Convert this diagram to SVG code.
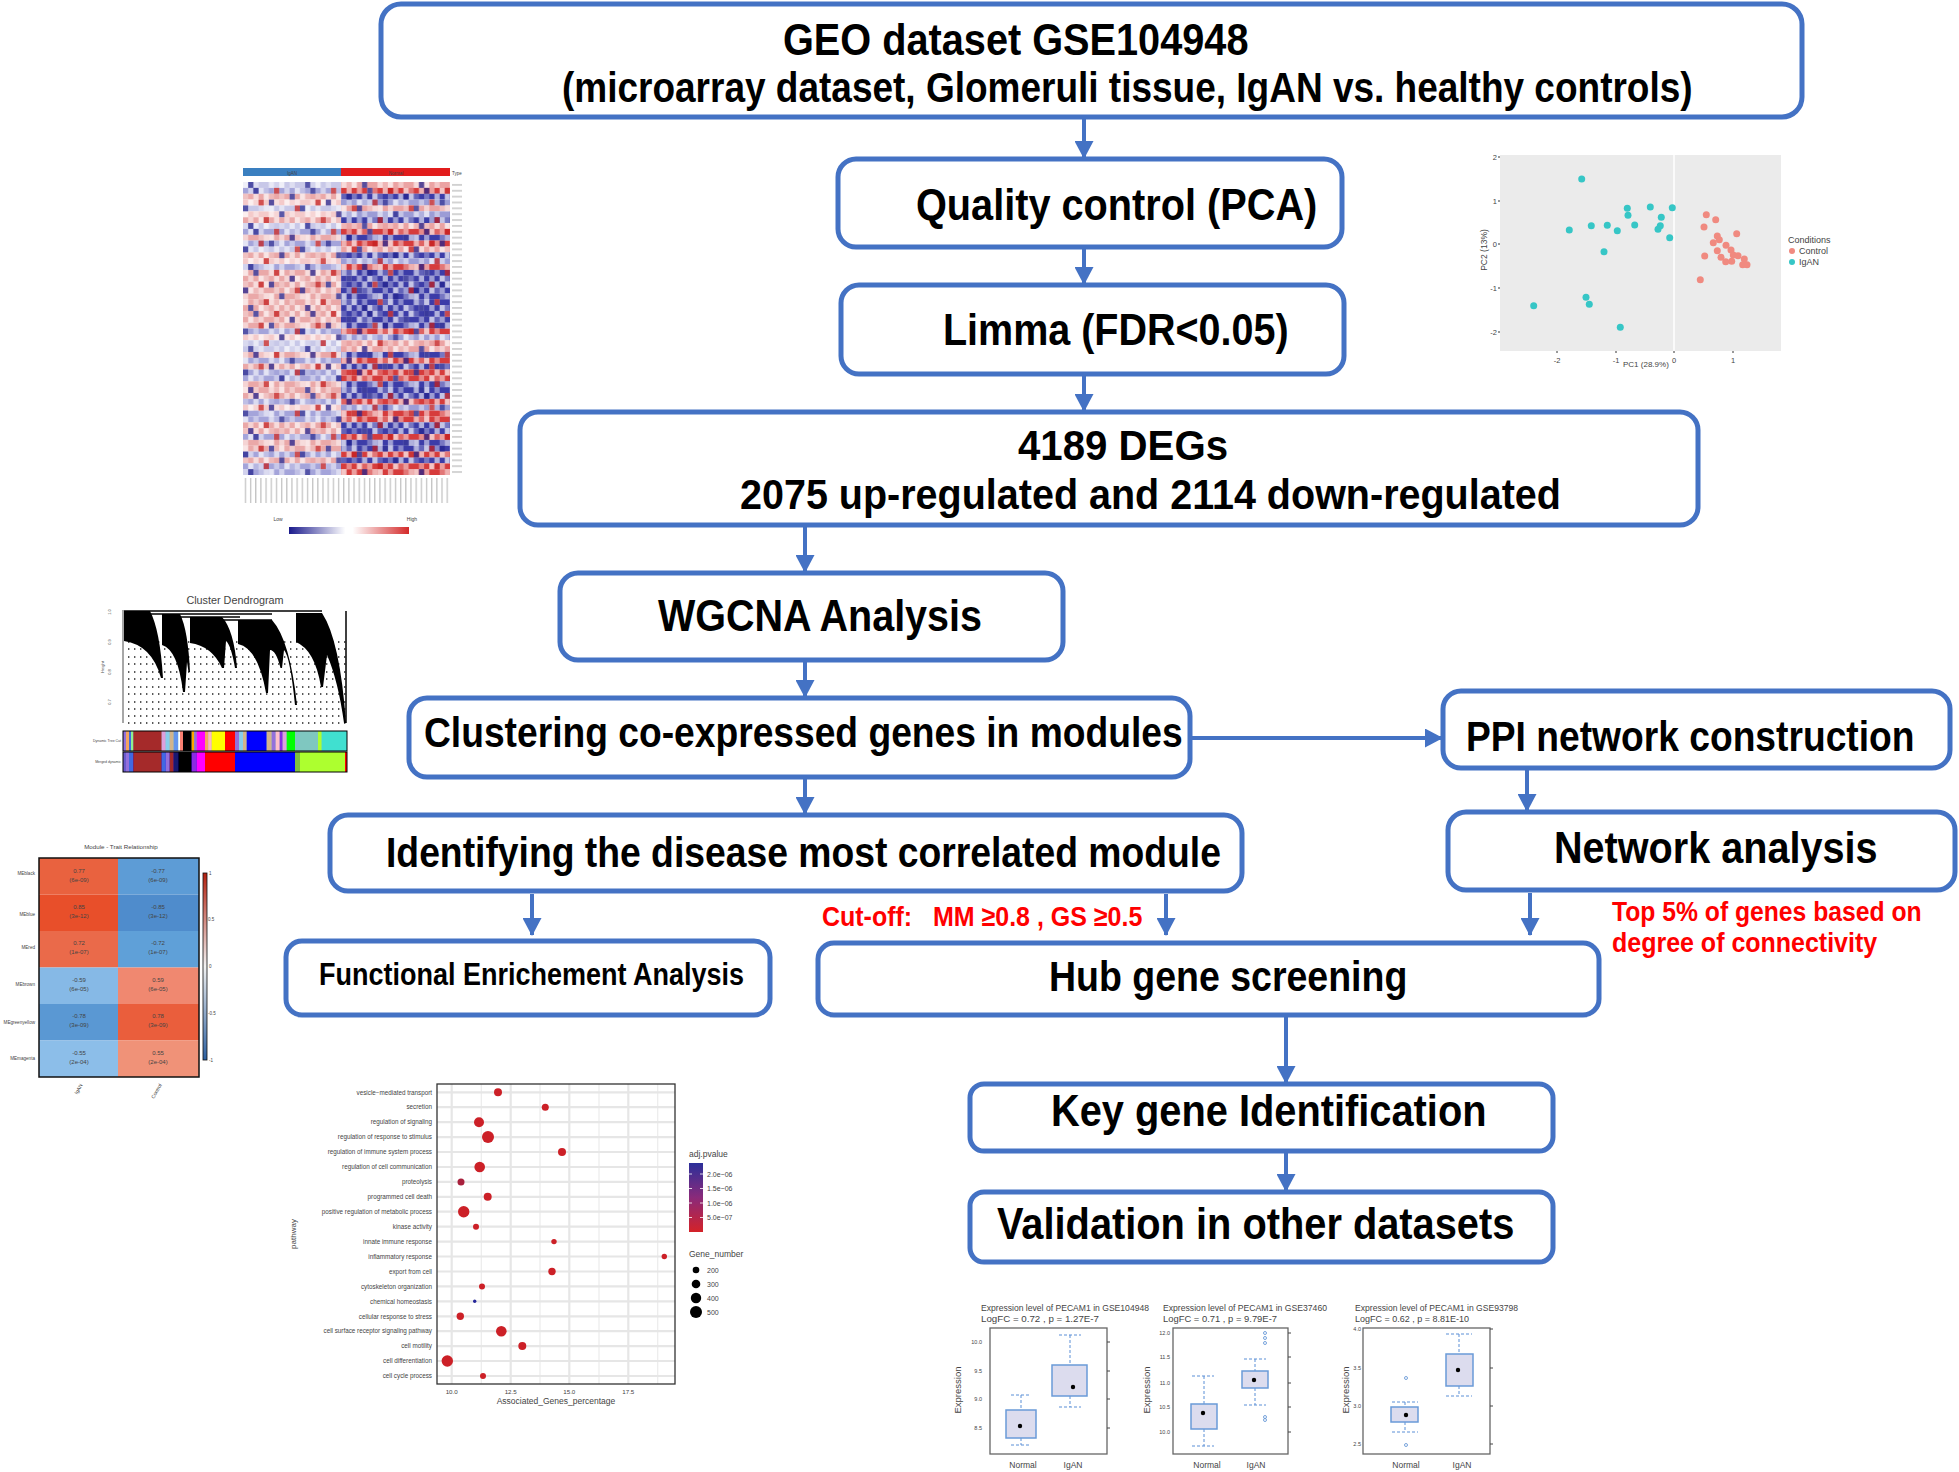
<svg xmlns="http://www.w3.org/2000/svg" width="1959" height="1472" viewBox="0 0 1959 1472">
<style>
.box{fill:#fff;stroke:#4472C4;stroke-width:5}
.t{font-family:"Liberation Sans",Arial,sans-serif;font-weight:bold;fill:#000}
.red{fill:#ff0000}
.con{stroke:#4472C4;stroke-width:4;fill:none;marker-end:url(#ah)}
.s{font-family:"Liberation Sans",Arial,sans-serif;fill:#444}
.R{fill:#d63c3c}.r{fill:#eba3a3}.B{fill:#3c3ca8}.b{fill:#9c9cd6}
.LR{fill:#a4a4da}.Lr{fill:#c8c8e8}.LB{fill:#eaa8a8}.Lb{fill:#f4caca}
.dot{fill:#cc2027}
.wh{stroke:#5b8fd6;stroke-width:1;stroke-dasharray:3 2;fill:none}
.bx{fill:#dcdcee;stroke:#6a9ad8;stroke-width:1.5}
.fr{fill:#fff;stroke:#666;stroke-width:1.3}
.ig{fill:#36c6c6}.ct{fill:#f08a80}
</style>
<defs>
<marker id="ah" markerUnits="userSpaceOnUse" markerWidth="18" markerHeight="19" refX="17" refY="9.5" orient="auto"><path d="M0,0 L18,9.5 L0,19 Z" fill="#4472C4"/></marker>
<pattern id="noise" patternUnits="userSpaceOnUse" x="243" y="182" width="36.225" height="29.3">
<g fill="#fff">
<rect x="0" y="0" width="5.2" height="5.9" opacity=".7"/><rect x="10.35" y="0" width="5.2" height="5.9" opacity=".4"/><rect x="25.875" y="0" width="5.2" height="5.9" opacity=".6"/><rect x="31.05" y="0" width="5.2" height="5.9" opacity=".2"/>
<rect x="5.175" y="5.86" width="5.2" height="5.9" opacity=".5"/><rect x="15.525" y="5.86" width="5.2" height="5.9" opacity=".7"/><rect x="20.7" y="5.86" width="5.2" height="5.9" opacity=".3"/><rect x="31.05" y="5.86" width="5.2" height="5.9" opacity=".6"/>
<rect x="0" y="11.72" width="5.2" height="5.9" opacity=".3"/><rect x="10.35" y="11.72" width="5.2" height="5.9" opacity=".6"/><rect x="20.7" y="11.72" width="5.2" height="5.9" opacity=".7"/><rect x="25.875" y="11.72" width="5.2" height="5.9" opacity=".2"/>
<rect x="5.175" y="17.58" width="5.2" height="5.9" opacity=".7"/><rect x="10.35" y="17.58" width="5.2" height="5.9" opacity=".2"/><rect x="15.525" y="17.58" width="5.2" height="5.9" opacity=".5"/><rect x="31.05" y="17.58" width="5.2" height="5.9" opacity=".4"/>
<rect x="0" y="23.44" width="5.2" height="5.9" opacity=".5"/><rect x="15.525" y="23.44" width="5.2" height="5.9" opacity=".3"/><rect x="20.7" y="23.44" width="5.2" height="5.9" opacity=".6"/><rect x="25.875" y="23.44" width="5.2" height="5.9" opacity=".7"/>
</g>
</pattern>
<pattern id="acc" patternUnits="userSpaceOnUse" x="243" y="182" width="56.925" height="41.02">
<g opacity=".75">
<rect x="5.175" y="0" width="5.2" height="5.9" fill="#23238f"/><rect x="31.05" y="5.86" width="5.2" height="5.9" fill="#c41e1e"/><rect x="10.35" y="5.86" width="5.2" height="5.9" fill="#23238f"/>
<rect x="46.575" y="11.72" width="5.2" height="5.9" fill="#23238f"/><rect x="15.525" y="17.58" width="5.2" height="5.9" fill="#c41e1e"/><rect x="25.875" y="17.58" width="5.2" height="5.9" fill="#23238f"/>
<rect x="0" y="23.44" width="5.2" height="5.9" fill="#23238f"/><rect x="51.75" y="23.44" width="5.2" height="5.9" fill="#c41e1e"/><rect x="36.225" y="29.3" width="5.2" height="5.9" fill="#23238f"/><rect x="20.7" y="35.16" width="5.2" height="5.9" fill="#c41e1e"/>
</g>
</pattern>
<pattern id="vl" patternUnits="userSpaceOnUse" x="243" y="478" width="5.175" height="30"><rect x="2" y="0" width="0.9" height="25" fill="#aaa"/></pattern>
<pattern id="hl" patternUnits="userSpaceOnUse" x="452" y="182" width="14" height="5.86"><rect x="0" y="2.4" width="10" height="1" fill="#aaa"/></pattern>
<linearGradient id="hmbar" x1="0" x2="1" y1="0" y2="0"><stop offset="0" stop-color="#1a1a8c"/><stop offset=".47" stop-color="#fff"/><stop offset=".53" stop-color="#fff"/><stop offset="1" stop-color="#d42a2a"/></linearGradient>
<linearGradient id="mtbar" x1="0" x2="0" y1="0" y2="1"><stop offset="0" stop-color="#b4200e"/><stop offset=".5" stop-color="#f2f2f2"/><stop offset="1" stop-color="#2b5fa0"/></linearGradient>
<linearGradient id="pbar" x1="0" x2="0" y1="0" y2="1"><stop offset="0" stop-color="#2b2f9a"/><stop offset=".5" stop-color="#8a2a7a"/><stop offset="1" stop-color="#d42228"/></linearGradient>
</defs>

<!-- connectors -->
<g id="connectors">
<line class="con" x1="1084" y1="117" x2="1084" y2="158"/>
<line class="con" x1="1084" y1="247" x2="1084" y2="284"/>
<line class="con" x1="1084" y1="374" x2="1084" y2="411"/>
<line class="con" x1="805" y1="525" x2="805" y2="572"/>
<line class="con" x1="805" y1="660" x2="805" y2="697"/>
<line class="con" x1="1190" y1="738" x2="1442" y2="738"/>
<line class="con" x1="805" y1="777" x2="805" y2="814"/>
<line class="con" x1="1527" y1="768" x2="1527" y2="811"/>
<line class="con" x1="532" y1="894" x2="532" y2="935"/>
<line class="con" x1="1166" y1="894" x2="1166" y2="935"/>
<line class="con" x1="1530" y1="893" x2="1530" y2="935"/>
<line class="con" x1="1286" y1="1015" x2="1286" y2="1083"/>
<line class="con" x1="1286" y1="1151" x2="1286" y2="1191"/>
</g>

<!-- nodes -->
<g id="geo"><rect class="box" x="381" y="4" width="1421" height="113" rx="20"/>
<text class="t" font-size="39.7" transform="translate(783,55) scale(1,1.13)">GEO dataset GSE104948</text>
<text class="t" font-size="37" transform="translate(562,102) scale(1,1.13)">(microarray dataset, Glomeruli tissue, IgAN vs. healthy controls)</text></g>
<g id="qc"><rect class="box" x="838" y="159" width="504" height="88" rx="18"/>
<text class="t" font-size="39.7" transform="translate(916,220) scale(1,1.13)">Quality control (PCA)</text></g>
<g id="limma"><rect class="box" x="841" y="285" width="503" height="89" rx="18"/>
<text class="t" font-size="39.5" transform="translate(943,345) scale(1,1.13)">Limma (FDR&lt;0.05)</text></g>
<g id="degs"><rect class="box" x="520" y="412" width="1178" height="113" rx="18"/>
<text class="t" font-size="40.2" transform="translate(1018,460) scale(1,1.08)">4189 DEGs</text>
<text class="t" font-size="39.5" transform="translate(740,509) scale(1,1.08)">2075 up-regulated and 2114 down-regulated</text></g>
<g id="wgcna"><rect class="box" x="560" y="573" width="503" height="87" rx="18"/>
<text class="t" font-size="39.5" transform="translate(658,631) scale(1,1.13)">WGCNA Analysis</text></g>
<g id="clustering"><rect class="box" x="409" y="698" width="781" height="79" rx="18"/>
<text class="t" font-size="37.2" transform="translate(424,747) scale(1,1.13)">Clustering co-expressed genes in modules</text></g>
<g id="ppi"><rect class="box" x="1443" y="691" width="507" height="77" rx="18"/>
<text class="t" font-size="37.2" transform="translate(1466,751) scale(1,1.13)">PPI network construction</text></g>
<g id="identifying"><rect class="box" x="330" y="815" width="912" height="76" rx="18"/>
<text class="t" font-size="37.3" transform="translate(386,867) scale(1,1.13)">Identifying the disease most correlated module</text></g>
<g id="network"><rect class="box" x="1448" y="812" width="507" height="78" rx="18"/>
<text class="t" font-size="39.6" transform="translate(1554,863) scale(1,1.13)">Network analysis</text></g>
<g id="functional"><rect class="box" x="286" y="941" width="484" height="74" rx="16"/>
<text class="t" font-size="27" transform="translate(319,985) scale(1,1.13)">Functional Enrichement Analysis</text></g>
<g id="cutoff"><text class="t red" font-size="25" xml:space="preserve" transform="translate(822,926) scale(1,1.13)">Cut-off:   MM ≥0.8 , GS ≥0.5</text></g>
<g id="top5"><text class="t red" font-size="24.7" transform="translate(1612,921) scale(1,1.13)">Top 5% of genes based on</text>
<text class="t red" font-size="25" transform="translate(1612,952) scale(1,1.13)">degree of connectivity</text></g>
<g id="hub"><rect class="box" x="818" y="943" width="781" height="72" rx="16"/>
<text class="t" font-size="37.5" transform="translate(1049,991) scale(1,1.13)">Hub gene screening</text></g>
<g id="key"><rect class="box" x="970" y="1084" width="583" height="67" rx="14"/>
<text class="t" font-size="39.8" transform="translate(1051,1126) scale(1,1.13)">Key gene Identification</text></g>
<g id="validation"><rect class="box" x="970" y="1192" width="583" height="70" rx="14"/>
<text class="t" font-size="39.8" transform="translate(997,1239) scale(1,1.13)">Validation in other datasets</text></g>

<!-- heatmap -->
<g id="heatmap">
<rect x="243" y="168" width="98" height="8" fill="#3a7fc0"/><rect x="341" y="168" width="109" height="8" fill="#e21c1c"/>
<text class="s" x="292" y="174.5" font-size="4.5" text-anchor="middle" fill="#222">IgAN</text>
<text class="s" x="396" y="174.5" font-size="4.5" text-anchor="middle" fill="#222">Normal</text>
<text class="s" x="452" y="174.5" font-size="4.5">Type</text>
<g>
<rect class="Lr" x="243" y="182" width="98" height="5.9"/><rect class="r" x="341" y="182" width="109" height="5.9"/>
<rect class="LR" x="243" y="187.86" width="98" height="5.9"/><rect class="R" x="341" y="187.86" width="109" height="5.9"/>
<rect class="LB" x="243" y="193.72" width="98" height="5.9"/><rect class="B" x="341" y="193.72" width="109" height="5.9"/>
<rect class="Lb" x="243" y="199.58" width="98" height="5.9"/><rect class="b" x="341" y="199.58" width="109" height="5.9"/>
<rect class="Lr" x="243" y="205.44" width="98" height="5.9"/><rect class="r" x="341" y="205.44" width="109" height="5.9"/>
<rect class="Lb" x="243" y="211.3" width="98" height="5.9"/><rect class="b" x="341" y="211.3" width="109" height="5.9"/>
<rect class="LB" x="243" y="217.16" width="98" height="5.9"/><rect class="B" x="341" y="217.16" width="109" height="5.9"/>
<rect class="Lr" x="243" y="223.02" width="98" height="5.9"/><rect class="r" x="341" y="223.02" width="109" height="5.9"/>
<rect class="LR" x="243" y="228.88" width="98" height="5.9"/><rect class="R" x="341" y="228.88" width="109" height="5.9"/>
<rect class="LB" x="243" y="234.74" width="98" height="5.9"/><rect class="B" x="341" y="234.74" width="109" height="5.9"/>
<rect class="LR" x="243" y="240.6" width="98" height="5.9"/><rect class="R" x="341" y="240.6" width="109" height="5.9"/>
<rect class="Lr" x="243" y="246.46" width="98" height="5.9"/><rect class="r" x="341" y="246.46" width="109" height="5.9"/>
<rect class="LB" x="243" y="252.32" width="98" height="5.9"/><rect class="B" x="341" y="252.32" width="109" height="5.9"/>
<rect class="Lb" x="243" y="258.18" width="98" height="5.9"/><rect class="b" x="341" y="258.18" width="109" height="5.9"/>
<rect class="LR" x="243" y="264.04" width="98" height="5.9"/><rect class="R" x="341" y="264.04" width="109" height="5.9"/>
<rect class="LB" x="243" y="269.9" width="98" height="5.9"/><rect class="B" x="341" y="269.9" width="109" height="5.9"/>
<rect class="LB" x="243" y="275.76" width="98" height="5.9"/><rect class="B" x="341" y="275.76" width="109" height="5.9"/>
<rect class="LB" x="243" y="281.62" width="98" height="5.9"/><rect class="B" x="341" y="281.62" width="109" height="5.9"/>
<rect class="LB" x="243" y="287.48" width="98" height="5.9"/><rect class="B" x="341" y="287.48" width="109" height="5.9"/>
<rect class="LB" x="243" y="293.34" width="98" height="5.9"/><rect class="B" x="341" y="293.34" width="109" height="5.9"/>
<rect class="LB" x="243" y="299.2" width="98" height="5.9"/><rect class="B" x="341" y="299.2" width="109" height="5.9"/>
<rect class="LB" x="243" y="305.06" width="98" height="5.9"/><rect class="B" x="341" y="305.06" width="109" height="5.9"/>
<rect class="LB" x="243" y="310.92" width="98" height="5.9"/><rect class="B" x="341" y="310.92" width="109" height="5.9"/>
<rect class="LB" x="243" y="316.78" width="98" height="5.9"/><rect class="B" x="341" y="316.78" width="109" height="5.9"/>
<rect class="LB" x="243" y="322.64" width="98" height="5.9"/><rect class="B" x="341" y="322.64" width="109" height="5.9"/>
<rect class="LR" x="243" y="328.5" width="98" height="5.9"/><rect class="R" x="341" y="328.5" width="109" height="5.9"/>
<rect class="Lb" x="243" y="334.36" width="98" height="5.9"/><rect class="b" x="341" y="334.36" width="109" height="5.9"/>
<rect class="Lr" x="243" y="340.22" width="98" height="5.9"/><rect class="r" x="341" y="340.22" width="109" height="5.9"/>
<rect class="Lr" x="243" y="346.08" width="98" height="5.9"/><rect class="r" x="341" y="346.08" width="109" height="5.9"/>
<rect class="LB" x="243" y="351.94" width="98" height="5.9"/><rect class="B" x="341" y="351.94" width="109" height="5.9"/>
<rect class="LR" x="243" y="357.8" width="98" height="5.9"/><rect class="R" x="341" y="357.8" width="109" height="5.9"/>
<rect class="LB" x="243" y="363.66" width="98" height="5.9"/><rect class="B" x="341" y="363.66" width="109" height="5.9"/>
<rect class="LR" x="243" y="369.52" width="98" height="5.9"/><rect class="R" x="341" y="369.52" width="109" height="5.9"/>
<rect class="LR" x="243" y="375.38" width="98" height="5.9"/><rect class="R" x="341" y="375.38" width="109" height="5.9"/>
<rect class="LB" x="243" y="381.24" width="98" height="5.9"/><rect class="B" x="341" y="381.24" width="109" height="5.9"/>
<rect class="LB" x="243" y="387.1" width="98" height="5.9"/><rect class="B" x="341" y="387.1" width="109" height="5.9"/>
<rect class="LB" x="243" y="392.96" width="98" height="5.9"/><rect class="B" x="341" y="392.96" width="109" height="5.9"/>
<rect class="LR" x="243" y="398.82" width="98" height="5.9"/><rect class="R" x="341" y="398.82" width="109" height="5.9"/>
<rect class="Lb" x="243" y="404.68" width="98" height="5.9"/><rect class="b" x="341" y="404.68" width="109" height="5.9"/>
<rect class="LR" x="243" y="410.54" width="98" height="5.9"/><rect class="R" x="341" y="410.54" width="109" height="5.9"/>
<rect class="LR" x="243" y="416.4" width="98" height="5.9"/><rect class="R" x="341" y="416.4" width="109" height="5.9"/>
<rect class="LB" x="243" y="422.26" width="98" height="5.9"/><rect class="B" x="341" y="422.26" width="109" height="5.9"/>
<rect class="LB" x="243" y="428.12" width="98" height="5.9"/><rect class="B" x="341" y="428.12" width="109" height="5.9"/>
<rect class="LR" x="243" y="433.98" width="98" height="5.9"/><rect class="R" x="341" y="433.98" width="109" height="5.9"/>
<rect class="LB" x="243" y="439.84" width="98" height="5.9"/><rect class="B" x="341" y="439.84" width="109" height="5.9"/>
<rect class="LB" x="243" y="445.7" width="98" height="5.9"/><rect class="B" x="341" y="445.7" width="109" height="5.9"/>
<rect class="LR" x="243" y="451.56" width="98" height="5.9"/><rect class="R" x="341" y="451.56" width="109" height="5.9"/>
<rect class="LB" x="243" y="457.42" width="98" height="5.9"/><rect class="B" x="341" y="457.42" width="109" height="5.9"/>
<rect class="LR" x="243" y="463.28" width="98" height="5.9"/><rect class="R" x="341" y="463.28" width="109" height="5.9"/>
<rect class="LR" x="243" y="469.14" width="98" height="5.86"/><rect class="R" x="341" y="469.14" width="109" height="5.86"/>
</g>
<rect x="243" y="182" width="207" height="293" fill="url(#noise)"/>
<rect x="243" y="182" width="207" height="293" fill="url(#acc)"/>
<rect x="452" y="182" width="11" height="293" fill="url(#hl)"/>
<rect x="243" y="478" width="207" height="25" fill="url(#vl)"/>
<text class="s" x="278" y="521" font-size="5" text-anchor="middle">Low</text>
<text class="s" x="412" y="521" font-size="5" text-anchor="middle">High</text>
<rect x="289" y="527" width="120" height="7" fill="url(#hmbar)"/>
</g>

<!-- PCA -->
<g id="pca">
<rect x="1500" y="155" width="281" height="196" fill="#ebebeb"/>
<line x1="1674" y1="155" x2="1674" y2="351" stroke="#fff" stroke-width="1.5"/>
<g class="s" font-size="7.5" text-anchor="end">
<text x="1497" y="160">2</text><text x="1497" y="204">1</text><text x="1497" y="247">0</text><text x="1497" y="291">-1</text><text x="1497" y="335">-2</text>
</g>
<g class="s" font-size="7.5" text-anchor="middle">
<text x="1557" y="363">-2</text><text x="1616" y="363">-1</text><text x="1674" y="363">0</text><text x="1733" y="363">1</text>
</g>
<g stroke="#333" stroke-width="1"><line x1="1498" y1="157" x2="1500" y2="157"/><line x1="1498" y1="201" x2="1500" y2="201"/><line x1="1498" y1="244" x2="1500" y2="244"/><line x1="1498" y1="288" x2="1500" y2="288"/><line x1="1498" y1="332" x2="1500" y2="332"/>
<line x1="1557" y1="351" x2="1557" y2="353"/><line x1="1616" y1="351" x2="1616" y2="353"/><line x1="1674" y1="351" x2="1674" y2="353"/><line x1="1733" y1="351" x2="1733" y2="353"/></g>
<text class="s" x="1623" y="367" font-size="8">PC1 (28.9%)</text>
<text class="s" x="1487" y="250" font-size="8.5" text-anchor="middle" transform="rotate(-90 1487 250)">PC2 (13%)</text>
<text class="s" x="1788" y="243" font-size="9">Conditions</text>
<circle class="ct" cx="1792" cy="251" r="3"/><circle class="ig" cx="1792" cy="262" r="3"/>
<text class="s" x="1799" y="254" font-size="9">Control</text><text class="s" x="1799" y="265" font-size="9">IgAN</text>
<g class="ig">
<circle cx="1581.7" cy="179" r="3.5"/><circle cx="1569.3" cy="230" r="3.5"/><circle cx="1591.3" cy="225.7" r="3.5"/><circle cx="1607.3" cy="225.3" r="3.5"/><circle cx="1617.3" cy="230.7" r="3.5"/><circle cx="1627.3" cy="208.3" r="3.5"/><circle cx="1628" cy="215.3" r="3.5"/><circle cx="1634.7" cy="225" r="3.5"/><circle cx="1650.3" cy="207" r="3.5"/><circle cx="1661.3" cy="217.3" r="3.5"/><circle cx="1660.3" cy="225.7" r="3.5"/><circle cx="1658" cy="229.3" r="3.5"/><circle cx="1669.7" cy="237.7" r="3.5"/><circle cx="1672.3" cy="207.7" r="3.5"/><circle cx="1604" cy="251.7" r="3.5"/><circle cx="1586" cy="297.3" r="3.5"/><circle cx="1589.3" cy="304.3" r="3.5"/><circle cx="1533.7" cy="305.7" r="3.5"/><circle cx="1620.3" cy="327.3" r="3.5"/>
</g>
<g class="ct">
<circle cx="1706.3" cy="214.7" r="3.5"/><circle cx="1715.7" cy="219.7" r="3.5"/><circle cx="1704" cy="227" r="3.5"/><circle cx="1717.3" cy="236" r="3.5"/><circle cx="1719.3" cy="239.7" r="3.5"/><circle cx="1736.7" cy="233.7" r="3.5"/><circle cx="1713.3" cy="242.7" r="3.5"/><circle cx="1726" cy="245.3" r="3.5"/><circle cx="1717.3" cy="250.7" r="3.5"/><circle cx="1731" cy="250" r="3.5"/><circle cx="1704.7" cy="256" r="3.5"/><circle cx="1721" cy="257.3" r="3.5"/><circle cx="1733.3" cy="255" r="3.5"/><circle cx="1738" cy="255.7" r="3.5"/><circle cx="1725.7" cy="261.7" r="3.5"/><circle cx="1731.7" cy="261.3" r="3.5"/><circle cx="1744.3" cy="259" r="3.5"/><circle cx="1742.7" cy="264.7" r="3.5"/><circle cx="1747" cy="264.7" r="3.5"/><circle cx="1700.3" cy="279.7" r="3.5"/>
</g>
</g>

<!-- dendrogram -->
<g id="dendrogram">
<text class="s" x="235" y="604" font-size="10.8" text-anchor="middle" fill="#222">Cluster Dendrogram</text>
<line x1="123" y1="610" x2="123" y2="723" stroke="#222" stroke-width="0.8"/>
<g class="s" font-size="4">
<text x="111" y="612" text-anchor="middle" transform="rotate(-90 111 612)">1.0</text>
<text x="111" y="642" text-anchor="middle" transform="rotate(-90 111 642)">0.9</text>
<text x="111" y="672" text-anchor="middle" transform="rotate(-90 111 672)">0.8</text>
<text x="111" y="702" text-anchor="middle" transform="rotate(-90 111 702)">0.7</text>
<text x="104" y="667" text-anchor="middle" transform="rotate(-90 104 667)">Height</text>
</g>
<g stroke="#222" stroke-width="1.3" stroke-dasharray="1.4 4.6">
<line x1="128" y1="642" x2="346" y2="642"/><line x1="128" y1="649" x2="346" y2="649"/><line x1="128" y1="657" x2="346" y2="657"/><line x1="128" y1="664" x2="346" y2="664"/><line x1="128" y1="672" x2="346" y2="672"/><line x1="128" y1="679" x2="346" y2="679"/><line x1="128" y1="687" x2="346" y2="687"/><line x1="128" y1="694" x2="346" y2="694"/><line x1="128" y1="702" x2="346" y2="702"/><line x1="128" y1="709" x2="346" y2="709"/><line x1="128" y1="716" x2="346" y2="716"/><line x1="128" y1="723" x2="346" y2="723"/>
</g>
<g stroke="#000" stroke-width="1.5" fill="none">
<line x1="124" y1="611" x2="322" y2="611"/>
<line x1="150" y1="614" x2="272" y2="614"/>
<line x1="180" y1="617" x2="240" y2="617"/>
<line x1="222" y1="620" x2="272" y2="620"/>
<line x1="346" y1="611" x2="346" y2="723"/>
</g>
<g fill="#000">
<path d="M124,611 H150 Q160,630 163,678 h-2 Q152,645 124,641 Z"/>
<path d="M162,614 H180 Q188,630 190,672 h-1.5 L187,662 L185,692 h-2 Q178,650 162,645 Z"/>
<path d="M190,617 H222 Q234,630 237,668 h-2 Q231,645 226,641 L224,668 h-2 Q212,646 190,643 Z"/>
<path d="M238,620 H272 Q290,640 297,705 h-2 Q290,656 284,650 L282,668 h-1.5 Q276,650 270,650 L268,693 h-2 Q258,648 238,644 Z"/>
<path d="M296,613 H322 Q340,640 346,723 h-2 Q338,680 327,655 L323,687 h-2 Q315,650 296,642 Z"/>
</g>
<g>
<rect x="123" y="731" width="224" height="20" fill="#7fc7c0"/>
<rect x="123" y="731" width="3" height="20" fill="#9370db"/><rect x="126" y="731" width="3" height="20" fill="#f4a460"/><rect x="129" y="731" width="2" height="20" fill="#4169e1"/><rect x="131" y="731" width="2.3" height="20" fill="#90ee90"/>
<rect x="133.3" y="731" width="28.4" height="20" fill="#a52a2a"/>
<rect x="161.7" y="731" width="4" height="20" fill="#dda0dd"/><rect x="165.7" y="731" width="4" height="20" fill="#87ceeb"/><rect x="169.7" y="731" width="4" height="20" fill="#d2b48c"/><rect x="173.7" y="731" width="4.6" height="20" fill="#6495ed"/>
<rect x="178.3" y="731" width="1.7" height="20" fill="#fff"/>
<rect x="180" y="731" width="3" height="20" fill="#fa8072"/>
<rect x="183" y="731" width="8.7" height="20" fill="#000"/>
<rect x="191.7" y="731" width="2.5" height="20" fill="#ffa500"/><rect x="194.2" y="731" width="2.5" height="20" fill="#9370db"/>
<rect x="196.7" y="731" width="8.3" height="20" fill="#ff00ff"/>
<rect x="205" y="731" width="3.3" height="20" fill="#f4a460"/><rect x="208.3" y="731" width="3.4" height="20" fill="#ffb6c1"/>
<rect x="211.7" y="731" width="13.3" height="20" fill="#ffff00"/>
<rect x="225" y="731" width="10" height="20" fill="#ff0000"/>
<rect x="235" y="731" width="4" height="20" fill="#9370db"/><rect x="239" y="731" width="4" height="20" fill="#87ceeb"/><rect x="243" y="731" width="3.7" height="20" fill="#d2b48c"/>
<rect x="246.7" y="731" width="20" height="20" fill="#0000ff"/>
<rect x="266.7" y="731" width="5" height="20" fill="#d2b48c"/><rect x="271.7" y="731" width="4" height="20" fill="#9370db"/><rect x="275.7" y="731" width="4" height="20" fill="#ffc0cb"/><rect x="279.7" y="731" width="3" height="20" fill="#8a2be2"/><rect x="282.7" y="731" width="4" height="20" fill="#dda0dd"/>
<rect x="286.7" y="731" width="8.3" height="20" fill="#00ff00"/>
<rect x="318" y="731" width="3.7" height="20" fill="#adff2f"/>
<rect x="321.7" y="731" width="25.3" height="20" fill="#40e0d0"/>
<rect x="123" y="752" width="224" height="20" fill="#0000ff"/>
<rect x="123" y="752" width="3" height="20" fill="#6a5acd"/><rect x="126" y="752" width="3" height="20" fill="#9370db"/><rect x="129" y="752" width="4.3" height="20" fill="#4169e1"/>
<rect x="133.3" y="752" width="28.4" height="20" fill="#a52a2a"/>
<rect x="161.7" y="752" width="4" height="20" fill="#4169e1"/><rect x="165.7" y="752" width="4" height="20" fill="#9370db"/><rect x="169.7" y="752" width="4" height="20" fill="#a52a2a"/><rect x="173.7" y="752" width="4.6" height="20" fill="#191970"/>
<rect x="178.3" y="752" width="13.4" height="20" fill="#000"/>
<rect x="191.7" y="752" width="5" height="20" fill="#8a2be2"/>
<rect x="196.7" y="752" width="8.3" height="20" fill="#ff00ff"/>
<rect x="205" y="752" width="30" height="20" fill="#ff0000"/>
<rect x="295" y="752" width="5" height="20" fill="#7fbf3f"/>
<rect x="300" y="752" width="45" height="20" fill="#adff2f"/>
<rect x="345" y="752" width="2" height="20" fill="#ff0000"/>
<rect x="123" y="731" width="224" height="20" fill="none" stroke="#000" stroke-width="1"/>
<rect x="123" y="752" width="224" height="20" fill="none" stroke="#000" stroke-width="1"/>
</g>
<text class="s" x="121" y="742" font-size="3.5" text-anchor="end">Dynamic Tree Cut</text>
<text class="s" x="121" y="763" font-size="3.5" text-anchor="end">Merged dynamic</text>
</g>

<!-- module-trait -->
<g id="moduletrait">
<text class="s" x="121" y="849" font-size="6.2" text-anchor="middle">Module - Trait Relationship</text>
<rect x="39" y="858" width="79" height="36.5" fill="#e9623f"/><rect x="118" y="858" width="81" height="36.5" fill="#5d9cd6"/>
<rect x="39" y="894.5" width="79" height="36.5" fill="#e84f2a"/><rect x="118" y="894.5" width="81" height="36.5" fill="#4f8ccc"/>
<rect x="39" y="931" width="79" height="36.5" fill="#ea6a4a"/><rect x="118" y="931" width="81" height="36.5" fill="#5fa0d8"/>
<rect x="39" y="967.5" width="79" height="36.5" fill="#86b9e6"/><rect x="118" y="967.5" width="81" height="36.5" fill="#f08870"/>
<rect x="39" y="1004" width="79" height="36.5" fill="#5a98d3"/><rect x="118" y="1004" width="81" height="36.5" fill="#ea5e3c"/>
<rect x="39" y="1040.5" width="79" height="36.5" fill="#8cbee9"/><rect x="118" y="1040.5" width="81" height="36.5" fill="#f09278"/>
<rect x="39" y="858" width="160" height="219" fill="none" stroke="#111" stroke-width="1.5"/>
<g class="s" font-size="4.6" text-anchor="end">
<text x="35" y="875">MEblack</text><text x="35" y="916">MEblue</text><text x="35" y="949">MEred</text><text x="35" y="986">MEbrown</text><text x="35" y="1024">MEgreenyellow</text><text x="35" y="1060">MEmagenta</text>
</g>
<g class="s" font-size="6" text-anchor="middle" fill="#333">
<text x="79" y="873">0.77</text><text x="79" y="881.5">(6e-09)</text><text x="158" y="873">-0.77</text><text x="158" y="881.5">(6e-09)</text>
<text x="79" y="909">0.85</text><text x="79" y="917.5">(3e-12)</text><text x="158" y="909">-0.85</text><text x="158" y="917.5">(3e-12)</text>
<text x="79" y="945">0.72</text><text x="79" y="953.5">(1e-07)</text><text x="158" y="945">-0.72</text><text x="158" y="953.5">(1e-07)</text>
<text x="79" y="982">-0.59</text><text x="79" y="990.5">(6e-05)</text><text x="158" y="982">0.59</text><text x="158" y="990.5">(6e-05)</text>
<text x="79" y="1018">-0.78</text><text x="79" y="1026.5">(3e-09)</text><text x="158" y="1018">0.78</text><text x="158" y="1026.5">(3e-09)</text>
<text x="79" y="1055">-0.55</text><text x="79" y="1063.5">(2e-04)</text><text x="158" y="1055">0.55</text><text x="158" y="1063.5">(2e-04)</text>
</g>
<rect x="203" y="873" width="4" height="187" fill="url(#mtbar)" stroke="#111" stroke-width="0.8"/>
<g class="s" font-size="4.5"><text x="209" y="875">1</text><text x="208" y="921">0.5</text><text x="209" y="968">0</text><text x="208" y="1015">-0.5</text><text x="209" y="1062">-1</text></g>
<text class="s" x="80" y="1090" font-size="5" text-anchor="middle" transform="rotate(-60 80 1090)">IgAN</text>
<text class="s" x="158" y="1092" font-size="5" text-anchor="middle" transform="rotate(-60 158 1092)">Control</text>
</g>

<!-- dot plot -->
<g id="dotplot">
<rect x="437" y="1084" width="238" height="300" fill="#fff"/>
<g stroke="#ebebeb" stroke-width="1.2">
<line x1="481.3" y1="1084" x2="481.3" y2="1384"/><line x1="540" y1="1084" x2="540" y2="1384"/><line x1="599" y1="1084" x2="599" y2="1384"/><line x1="657.7" y1="1084" x2="657.7" y2="1384"/>
</g>
<g stroke="#e6e6e6" stroke-width="2.2">
<line x1="451.7" y1="1084" x2="451.7" y2="1384"/><line x1="510.7" y1="1084" x2="510.7" y2="1384"/><line x1="569.3" y1="1084" x2="569.3" y2="1384"/><line x1="628.3" y1="1084" x2="628.3" y2="1384"/>
<line x1="437" y1="1092.3" x2="675" y2="1092.3"/><line x1="437" y1="1107.2" x2="675" y2="1107.2"/><line x1="437" y1="1122.2" x2="675" y2="1122.2"/><line x1="437" y1="1137.1" x2="675" y2="1137.1"/><line x1="437" y1="1152" x2="675" y2="1152"/><line x1="437" y1="1167" x2="675" y2="1167"/><line x1="437" y1="1181.9" x2="675" y2="1181.9"/><line x1="437" y1="1196.8" x2="675" y2="1196.8"/><line x1="437" y1="1211.7" x2="675" y2="1211.7"/><line x1="437" y1="1226.7" x2="675" y2="1226.7"/><line x1="437" y1="1241.6" x2="675" y2="1241.6"/><line x1="437" y1="1256.5" x2="675" y2="1256.5"/><line x1="437" y1="1271.5" x2="675" y2="1271.5"/><line x1="437" y1="1286.4" x2="675" y2="1286.4"/><line x1="437" y1="1301.3" x2="675" y2="1301.3"/><line x1="437" y1="1316.3" x2="675" y2="1316.3"/><line x1="437" y1="1331.2" x2="675" y2="1331.2"/><line x1="437" y1="1346.1" x2="675" y2="1346.1"/><line x1="437" y1="1361" x2="675" y2="1361"/><line x1="437" y1="1376" x2="675" y2="1376"/>
</g>
<rect x="437" y="1084" width="238" height="300" fill="none" stroke="#333" stroke-width="1.3"/>
<g class="s" font-size="6.3" text-anchor="end" fill="#555">
<text x="432" y="1094.5">vesicle−mediated transport</text>
<text x="432" y="1109.4">secretion</text>
<text x="432" y="1124.4">regulation of signaling</text>
<text x="432" y="1139.3">regulation of response to stimulus</text>
<text x="432" y="1154.2">regulation of immune system process</text>
<text x="432" y="1169.2">regulation of cell communication</text>
<text x="432" y="1184.1">proteolysis</text>
<text x="432" y="1199">programmed cell death</text>
<text x="432" y="1213.9">positive regulation of metabolic process</text>
<text x="432" y="1228.9">kinase activity</text>
<text x="432" y="1243.8">innate immune response</text>
<text x="432" y="1258.7">inflammatory response</text>
<text x="432" y="1273.7">export from cell</text>
<text x="432" y="1288.6">cytoskeleton organization</text>
<text x="432" y="1303.5">chemical homeostasis</text>
<text x="432" y="1318.5">cellular response to stress</text>
<text x="432" y="1333.4">cell surface receptor signaling pathway</text>
<text x="432" y="1348.3">cell motility</text>
<text x="432" y="1363.2">cell differentiation</text>
<text x="432" y="1378.2">cell cycle process</text>
</g>
<g class="dot">
<circle cx="498" cy="1092.3" r="4"/><circle cx="545.3" cy="1107.2" r="3.5"/><circle cx="479" cy="1122.2" r="5"/><circle cx="488" cy="1137.1" r="6"/><circle cx="562" cy="1152" r="4"/><circle cx="479.7" cy="1167" r="5.3"/><circle cx="461" cy="1181.9" r="3.5" fill="#a8203c"/><circle cx="487.7" cy="1196.8" r="4"/><circle cx="463.7" cy="1211.7" r="5.7"/><circle cx="476" cy="1226.7" r="3"/><circle cx="554" cy="1241.6" r="2.7"/><circle cx="664.3" cy="1256.5" r="2.7"/><circle cx="552" cy="1271.5" r="3.7"/><circle cx="482" cy="1286.4" r="3"/><circle cx="474.7" cy="1301.3" r="1.7" fill="#26279a"/><circle cx="460.3" cy="1316.3" r="3.7"/><circle cx="501.3" cy="1331.2" r="5.3"/><circle cx="522.3" cy="1346.1" r="4"/><circle cx="447.3" cy="1361" r="5.7"/><circle cx="483" cy="1376" r="3"/>
</g>
<g class="s" font-size="6.2" text-anchor="middle" fill="#555">
<text x="451.7" y="1394">10.0</text><text x="510.7" y="1394">12.5</text><text x="569.3" y="1394">15.0</text><text x="628.3" y="1394">17.5</text>
</g>
<text class="s" x="556" y="1404" font-size="8.5" text-anchor="middle" fill="#222">Associated_Genes_percentage</text>
<text class="s" x="296" y="1234" font-size="8" text-anchor="middle" transform="rotate(-90 296 1234)" fill="#222">pathway</text>
<text class="s" x="689" y="1157" font-size="8.5" fill="#222">adj.pvalue</text>
<rect x="689" y="1163" width="14" height="69" fill="url(#pbar)"/>
<g stroke="#fff" stroke-width="0.8"><line x1="689" y1="1174" x2="692" y2="1174"/><line x1="700" y1="1174" x2="703" y2="1174"/><line x1="689" y1="1188.5" x2="692" y2="1188.5"/><line x1="700" y1="1188.5" x2="703" y2="1188.5"/><line x1="689" y1="1203" x2="692" y2="1203"/><line x1="700" y1="1203" x2="703" y2="1203"/><line x1="689" y1="1217.5" x2="692" y2="1217.5"/><line x1="700" y1="1217.5" x2="703" y2="1217.5"/></g>
<g class="s" font-size="7" fill="#222"><text x="707" y="1176.5">2.0e−06</text><text x="707" y="1191">1.5e−06</text><text x="707" y="1205.5">1.0e−06</text><text x="707" y="1220">5.0e−07</text></g>
<text class="s" x="689" y="1257" font-size="8.5" fill="#222">Gene_number</text>
<circle cx="696" cy="1270" r="3.3" fill="#000"/><circle cx="696" cy="1284" r="4.3" fill="#000"/><circle cx="696" cy="1298" r="5.2" fill="#000"/><circle cx="696" cy="1312" r="6" fill="#000"/>
<g class="s" font-size="7" fill="#222"><text x="707" y="1272.5">200</text><text x="707" y="1286.5">300</text><text x="707" y="1300.5">400</text><text x="707" y="1314.5">500</text></g>
</g>

<!-- box plots -->
<g id="boxplot1">
<text class="s" x="981" y="1311" font-size="8.2" textLength="168" lengthAdjust="spacingAndGlyphs" fill="#222">Expression level of  PECAM1 in GSE104948</text>
<text class="s" x="981" y="1322" font-size="8.2" textLength="118" lengthAdjust="spacingAndGlyphs" fill="#222">LogFC = 0.72 , p = 1.27E-7</text>
<rect class="fr" x="990" y="1328" width="117" height="126"/>
<g class="s" font-size="5.5" text-anchor="end"><text x="982" y="1344">10.0</text><text x="982" y="1373">9.5</text><text x="982" y="1401">9.0</text><text x="982" y="1430">8.5</text></g>
<g stroke="#444" stroke-width="1"><line x1="1107" y1="1342" x2="1110" y2="1342"/><line x1="1107" y1="1371" x2="1110" y2="1371"/><line x1="1107" y1="1399" x2="1110" y2="1399"/><line x1="1107" y1="1428" x2="1110" y2="1428"/></g>
<text class="s" x="961" y="1390" font-size="9.5" text-anchor="middle" transform="rotate(-90 961 1390)" fill="#222">Expression</text>
<path class="wh" d="M1011,1395 H1031 M1021,1395 V1410 M1021,1438 V1445 M1011,1445 H1031"/>
<rect class="bx" x="1006" y="1410" width="30" height="28"/>
<circle cx="1020" cy="1426" r="2.2" fill="#000"/>
<path class="wh" d="M1059,1335 H1081 M1070,1335 V1365 M1070,1396 V1407 M1059,1407 H1081"/>
<rect class="bx" x="1052" y="1365" width="35" height="31"/>
<circle cx="1073" cy="1387" r="2.2" fill="#000"/>
<text class="s" x="1023" y="1468" font-size="8.5" text-anchor="middle" fill="#222">Normal</text>
<text class="s" x="1073" y="1468" font-size="8.5" text-anchor="middle" fill="#222">IgAN</text>
</g>
<g id="boxplot2">
<text class="s" x="1163" y="1311" font-size="8.2" textLength="164" lengthAdjust="spacingAndGlyphs" fill="#222">Expression level of  PECAM1 in GSE37460</text>
<text class="s" x="1163" y="1322" font-size="8.2" textLength="114" lengthAdjust="spacingAndGlyphs" fill="#222">LogFC = 0.71 , p = 9.79E-7</text>
<rect class="fr" x="1173" y="1328" width="115" height="126"/>
<g class="s" font-size="5.5" text-anchor="end"><text x="1170" y="1335">12.0</text><text x="1170" y="1359">11.5</text><text x="1170" y="1385">11.0</text><text x="1170" y="1409">10.5</text><text x="1170" y="1434">10.0</text></g>
<g stroke="#444" stroke-width="1"><line x1="1288" y1="1333" x2="1291" y2="1333"/><line x1="1288" y1="1357" x2="1291" y2="1357"/><line x1="1288" y1="1383" x2="1291" y2="1383"/><line x1="1288" y1="1407" x2="1291" y2="1407"/><line x1="1288" y1="1432" x2="1291" y2="1432"/></g>
<text class="s" x="1150" y="1390" font-size="9.5" text-anchor="middle" transform="rotate(-90 1150 1390)" fill="#222">Expression</text>
<path class="wh" d="M1192,1376 H1214 M1204,1376 V1404 M1204,1429 V1446 M1192,1446 H1214"/>
<rect class="bx" x="1191" y="1404" width="26" height="25"/>
<circle cx="1203" cy="1413" r="2.2" fill="#000"/>
<path class="wh" d="M1244,1359 H1266 M1255,1359 V1371 M1255,1388 V1405 M1244,1405 H1266"/>
<rect class="bx" x="1242" y="1371" width="26" height="17"/>
<circle cx="1254" cy="1380" r="2.2" fill="#000"/>
<g fill="none" stroke="#6a9ad8" stroke-width="0.9"><circle cx="1265" cy="1333" r="1.5"/><circle cx="1265" cy="1338" r="1.5"/><circle cx="1265" cy="1343" r="1.5"/><circle cx="1265" cy="1417" r="1.5"/><circle cx="1265" cy="1420" r="1.5"/></g>
<text class="s" x="1207" y="1468" font-size="8.5" text-anchor="middle" fill="#222">Normal</text>
<text class="s" x="1256" y="1468" font-size="8.5" text-anchor="middle" fill="#222">IgAN</text>
</g>
<g id="boxplot3">
<text class="s" x="1355" y="1311" font-size="8.2" textLength="163" lengthAdjust="spacingAndGlyphs" fill="#222">Expression level of  PECAM1 in GSE93798</text>
<text class="s" x="1355" y="1322" font-size="8.2" textLength="114" lengthAdjust="spacingAndGlyphs" fill="#222">LogFC = 0.62 , p = 8.81E-10</text>
<rect class="fr" x="1363" y="1328" width="127" height="126"/>
<g class="s" font-size="5.5" text-anchor="end"><text x="1361" y="1331">4.0</text><text x="1361" y="1370">3.5</text><text x="1361" y="1408">3.0</text><text x="1361" y="1446">2.5</text></g>
<g stroke="#444" stroke-width="1"><line x1="1490" y1="1329" x2="1493" y2="1329"/><line x1="1490" y1="1368" x2="1493" y2="1368"/><line x1="1490" y1="1406" x2="1493" y2="1406"/><line x1="1490" y1="1444" x2="1493" y2="1444"/></g>
<text class="s" x="1349" y="1390" font-size="9.5" text-anchor="middle" transform="rotate(-90 1349 1390)" fill="#222">Expression</text>
<path class="wh" d="M1392,1402 H1418 M1405,1402 V1407 M1405,1422 V1432 M1392,1432 H1418"/>
<rect class="bx" x="1391" y="1407" width="27" height="15"/>
<circle cx="1406" cy="1415" r="2.2" fill="#000"/>
<g fill="none" stroke="#6a9ad8" stroke-width="0.9"><circle cx="1406" cy="1378" r="1.5"/><circle cx="1406" cy="1445" r="1.5"/></g>
<path class="wh" d="M1446,1334 H1472 M1459,1334 V1354 M1459,1386 V1396 M1446,1396 H1472"/>
<rect class="bx" x="1446" y="1354" width="27" height="32"/>
<circle cx="1458" cy="1370" r="2.2" fill="#000"/>
<text class="s" x="1406" y="1468" font-size="8.5" text-anchor="middle" fill="#222">Normal</text>
<text class="s" x="1462" y="1468" font-size="8.5" text-anchor="middle" fill="#222">IgAN</text>
</g>
</svg>
